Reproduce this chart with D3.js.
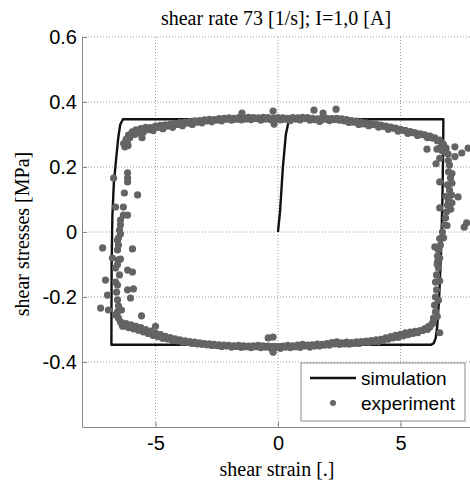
<!DOCTYPE html>
<html>
<head>
<meta charset="utf-8">
<script src="https://cdn.jsdelivr.net/npm/d3@7"></script>
<style>
    body { margin: 0; background: #fff; }
    .tick text { font-family: "Liberation Sans", Arial, sans-serif; font-size: 20px; fill: #000; }
    .serif-label { font-family: "Liberation Serif", "Times New Roman", serif; font-size: 20px; fill: #000; }
    .legend-text { font-family: "Liberation Sans", Arial, sans-serif; font-size: 19px; fill: #000; }
</style>
</head>
<body>
<div id="chart"></div>
<script>
const TITLE = "shear rate 73 [1/s]; I=1,0 [A]";
const X_LABEL = "shear strain [.]";
const Y_LABEL = "shear stresses [MPa]";
const X_TICKS = [-5, 0, 5];
const Y_TICKS = [-0.4, -0.2, 0, 0.2, 0.4, 0.6];
const LEGEND = ["simulation", "experiment"];

// simulated loop (strain, stress)
const simStrain = [0, 0.08, 0.2, 0.32, 0.45, 6.75, 6.74, 6.71, 6.66, 6.58, 6.5, 6.44, 6.36, 6.25,
    -6.8, -6.79, -6.76, -6.7, -6.6, -6.52, -6.44, -6.33, 6.75];
const simStress = [0, 0.06, 0.2, 0.3, 0.347, 0.347, 0.25, 0.1, -0.05, -0.2, -0.29, -0.325, -0.342, -0.347,
    -0.347, -0.1, 0.05, 0.15, 0.23, 0.29, 0.33, 0.347, 0.347];

const expTop = [
    [-6.3,0.272],[-6.2,0.285],[-6.1,0.298],[-5.95,0.308],[-5.8,0.314],[-5.6,0.318],[-5.4,0.322],[-5.2,0.321],
    [-5.0,0.326],[-4.8,0.328],[-4.6,0.33],[-4.4,0.331],[-4.2,0.334],[-4.0,0.337],[-3.8,0.338],[-3.6,0.34],
    [-3.4,0.342],[-3.2,0.343],[-3.0,0.345],[-2.8,0.347],[-2.6,0.346],[-2.4,0.349],[-2.2,0.35],[-2.0,0.351],
    [-1.8,0.35],[-1.6,0.352],[-1.4,0.351],[-1.2,0.353],[-1.0,0.352],[-0.8,0.351],[-0.6,0.353],[-0.4,0.352],
    [-0.2,0.35],[0.0,0.352],[0.2,0.351],[0.4,0.35],[0.6,0.352],[0.8,0.351],[1.0,0.353],[1.2,0.352],
    [1.4,0.35],[1.6,0.348],[1.8,0.351],[2.0,0.35],[2.2,0.349],[2.4,0.35],[2.6,0.348],[2.8,0.346],
    [3.0,0.343],[3.2,0.341],[3.4,0.338],[3.6,0.336],[3.8,0.334],[4.0,0.332],[4.2,0.329],[4.4,0.326],
    [4.6,0.323],[4.8,0.32],[5.0,0.316],[5.2,0.313],[5.4,0.309],[5.6,0.305],[5.8,0.302],[6.0,0.299],
    [6.2,0.295],[6.4,0.29],[6.6,0.283],
    [-6.25,0.262],[-6.05,0.29],[-5.85,0.3],[-5.5,0.307],[-5.1,0.312],[-4.7,0.318],[-4.3,0.322],[-3.9,0.327],
    [-3.5,0.331],[-3.1,0.336],[-2.7,0.339],[-2.3,0.342],[-1.9,0.344],[-1.5,0.345],[-1.1,0.346],[-0.7,0.344],
    [-0.3,0.346],[0.1,0.345],[0.5,0.343],[0.9,0.345],[1.3,0.344],[1.7,0.34],[2.1,0.343],[2.5,0.344],
    [2.9,0.337],[3.3,0.331],[3.7,0.327],[4.1,0.323],[4.5,0.316],[4.9,0.31],[5.3,0.303],[5.7,0.297],
    [6.1,0.29],[6.5,0.281],[6.7,0.272],
    [-6.15,0.275],[-5.7,0.305],[-5.3,0.315],[-4.9,0.322],[-4.5,0.326],[-4.1,0.331],[-3.7,0.335],[-3.3,0.338],
    [-2.9,0.342],[-2.5,0.344],[-2.1,0.347],[-1.7,0.347],[-1.3,0.348],[-0.9,0.349],[-0.5,0.348],[-0.1,0.348],
    [0.3,0.347],[0.7,0.348],[1.1,0.349],[1.5,0.346],[1.9,0.347],[2.3,0.346],[2.7,0.342],[3.1,0.338],
    [3.5,0.333],[3.9,0.33],[4.3,0.325],[4.7,0.319],[5.1,0.313],[5.5,0.306],[5.9,0.299],[6.3,0.289],
    [-5.55,0.29],[-6.12,0.266],[-1.47,0.366],[-0.2,0.372],[-0.16,0.332],[1.47,0.375],[1.84,0.366],[2.37,0.378]
];
const expRight = [
    [6.75,0.27],[6.8,0.26],[6.7,0.25],[6.85,0.245],[6.08,0.255],[6.49,0.255],[6.6,0.258],[6.86,0.258],
    [7.22,0.262],[7.76,0.258],[7.5,0.243],[7.22,0.232],[6.94,0.24],[6.45,0.21],[6.6,0.227],[6.95,0.22],
    [7.0,0.206],[6.96,0.185],[7.04,0.166],[6.92,0.145],[7.0,0.129],[7.08,0.114],[6.96,0.098],[6.92,0.083],
    [6.88,0.062],[6.84,0.043],[6.8,0.022],[6.71,0.0],[6.76,-0.018],[6.63,-0.04],[6.55,-0.055],[6.51,-0.074],
    [6.51,-0.092],[6.55,-0.111],[6.47,-0.132],[6.43,-0.154],[6.47,-0.178],[6.43,-0.2],[6.39,-0.225],[6.43,-0.246],
    [6.35,-0.265],[6.31,-0.28],
    [7.1,0.18],[7.1,0.15],[7.05,0.07],[6.9,0.02],[6.6,-0.02],[6.6,-0.08],[6.6,-0.15],[6.55,-0.21],[6.5,-0.26],
    [6.6,0.154],[7.35,0.108],[6.6,0.074],[7.6,0.015],[7.7,0.028],[6.4,-0.046],[6.5,-0.05],[6.6,-0.31],
    [7.1,0.09],[6.85,0.11],[6.5,-0.1]
];
const expBottom = [
    [6.3,-0.282],[6.15,-0.29],[6.0,-0.297],[5.8,-0.303],[5.6,-0.306],[5.4,-0.308],[5.2,-0.31],[5.0,-0.315],
    [4.8,-0.318],[4.6,-0.322],[4.4,-0.326],[4.2,-0.33],[4.0,-0.332],[3.8,-0.334],[3.6,-0.336],[3.4,-0.337],
    [3.2,-0.338],[3.0,-0.34],[2.8,-0.339],[2.6,-0.341],[2.4,-0.338],[2.2,-0.34],[2.0,-0.343],[1.8,-0.346],
    [1.6,-0.345],[1.4,-0.347],[1.2,-0.348],[1.0,-0.346],[0.8,-0.348],[0.6,-0.35],[0.4,-0.349],[0.2,-0.351],
    [0.0,-0.353],[-0.2,-0.352],[-0.4,-0.351],[-0.6,-0.35],[-0.8,-0.349],[-1.0,-0.35],[-1.2,-0.351],[-1.4,-0.35],
    [-1.6,-0.349],[-1.8,-0.35],[-2.0,-0.349],[-2.2,-0.348],[-2.4,-0.347],[-2.6,-0.346],[-2.8,-0.344],[-3.0,-0.343],
    [-3.2,-0.341],[-3.4,-0.339],[-3.6,-0.337],[-3.8,-0.335],[-4.0,-0.332],[-4.2,-0.329],[-4.4,-0.325],[-4.6,-0.321],
    [-4.8,-0.316],[-5.0,-0.311],[-5.2,-0.305],[-5.4,-0.3],[-5.6,-0.294],[-5.8,-0.29],[-6.0,-0.286],[-6.2,-0.282],
    [-6.4,-0.278],
    [6.1,-0.3],[5.7,-0.31],[5.3,-0.316],[4.9,-0.324],[4.5,-0.33],[4.1,-0.337],[3.7,-0.34],[3.3,-0.343],
    [2.9,-0.345],[2.5,-0.346],[2.1,-0.348],[1.7,-0.351],[1.3,-0.354],[0.9,-0.355],[0.5,-0.356],[0.1,-0.358],
    [-0.3,-0.357],[-0.7,-0.356],[-1.1,-0.356],[-1.5,-0.355],[-1.9,-0.354],[-2.3,-0.352],[-2.7,-0.349],[-3.1,-0.346],
    [-3.5,-0.343],[-3.9,-0.339],[-4.3,-0.334],[-4.7,-0.327],[-5.1,-0.318],[-5.5,-0.307],[-5.9,-0.298],[-6.3,-0.29],
    [6.2,-0.292],[5.9,-0.303],[5.5,-0.312],[5.1,-0.32],[4.7,-0.326],[4.3,-0.333],[3.9,-0.337],[3.5,-0.34],
    [3.1,-0.343],[2.7,-0.344],[2.3,-0.344],[1.9,-0.348],[1.5,-0.351],[1.1,-0.351],[0.7,-0.353],[0.3,-0.354],
    [-0.1,-0.355],[-0.5,-0.354],[-0.9,-0.353],[-1.3,-0.353],[-1.7,-0.352],[-2.1,-0.351],[-2.5,-0.35],[-2.9,-0.347],
    [-3.3,-0.344],[-3.7,-0.34],[-4.1,-0.335],[-4.5,-0.329],[-4.9,-0.322],[-5.3,-0.312],[-5.7,-0.302],[-6.1,-0.294],
    [-0.4,-0.326],[-0.2,-0.323],[-0.2,-0.37],[-5.0,-0.29],[-5.57,-0.258]
];
const expLeft = [
    [-6.71,0.166],[-6.14,0.182],[-6.14,0.166],[-6.14,0.154],[-6.27,0.12],[-5.73,0.114],[-6.63,0.077],[-6.31,0.077],
    [-6.14,0.052],[-6.31,0.052],[-6.43,0.037],[-6.43,0.022],[-6.47,0.006],[-6.43,-0.006],[-6.51,-0.018],[-7.16,-0.049],
    [-6.55,-0.025],[-6.55,-0.055],[-5.94,-0.052],[-6.76,-0.08],[-6.51,-0.086],[-6.43,-0.083],[-6.63,-0.111],[-6.14,-0.117],
    [-5.94,-0.123],[-7.04,-0.148],[-6.63,-0.154],[-6.14,-0.178],[-5.9,-0.175],[-6.96,-0.194],[-6.02,-0.203],[-7.24,-0.234],
    [-6.92,-0.24],[-6.51,-0.04],[-6.55,-0.1],[-6.47,-0.132],
    [-6.55,-0.163],[-6.59,-0.185],[-6.55,-0.209],[-6.51,-0.228],[-6.55,-0.246],[-6.51,-0.265],[-6.43,-0.277],[-6.35,-0.289],
    [-6.63,-0.255],[-6.39,-0.24]
];

class LoopChart {

    constructor(parentElement) {
        this.parentElement = parentElement;
        this.initVis();
    }

    initVis() {
        let vis = this;
        vis.width = 470;
        vis.height = 485;

        vis.svg = d3.select('#' + vis.parentElement).append("svg")
            .attr("width", vis.width)
            .attr("height", vis.height)

        vis.x = d3.scaleLinear().domain([-8, 8]).range([82, 474]);
        vis.y = d3.scaleLinear().domain([-0.6, 0.6]).range([427, 37]);

        // dotted grid
        vis.svg.selectAll(".grid-x")
            .data(X_TICKS)
            .enter().append("line")
            .attr("class", "grid-x")
            .attr("x1", d => vis.x(d)).attr("x2", d => vis.x(d))
            .attr("y1", vis.y(0.6)).attr("y2", vis.y(-0.6))
            .attr("stroke", "#9a9a9a").attr("stroke-dasharray", "1,2")

        vis.svg.selectAll(".grid-y")
            .data(Y_TICKS)
            .enter().append("line")
            .attr("class", "grid-y")
            .attr("x1", vis.x(-8)).attr("x2", vis.x(8))
            .attr("y1", d => vis.y(d)).attr("y2", d => vis.y(d))
            .attr("stroke", "#9a9a9a").attr("stroke-dasharray", "1,2")

        vis.svg.append("g")
            .attr("transform", "translate(0," + vis.y(-0.6) + ")")
            .call(d3.axisBottom(vis.x).tickValues(X_TICKS).tickSizeInner(-5).tickSizeOuter(0)
                .tickPadding(9).tickFormat(d => String(d)))
            .call(g => g.selectAll("path, line").attr("stroke", "#8a8a8a"))

        vis.svg.append("g")
            .attr("transform", "translate(" + vis.x(-8) + ",0)")
            .call(d3.axisLeft(vis.y).tickValues(Y_TICKS).tickSizeInner(-5).tickSizeOuter(0)
                .tickPadding(5).tickFormat(d => String(d)))
            .call(g => g.selectAll("path, line").attr("stroke", "#8a8a8a"))

        vis.svg.append("text")
            .attr("class", "serif-label")
            .attr("x", 276).attr("y", 25)
            .attr("text-anchor", "middle")
            .text(TITLE)

        vis.svg.append("text")
            .attr("class", "serif-label")
            .attr("x", 277).attr("y", 476)
            .attr("text-anchor", "middle")
            .text(X_LABEL)

        vis.svg.append("text")
            .attr("class", "serif-label")
            .attr("transform", "translate(29,234) rotate(-90)")
            .attr("text-anchor", "middle")
            .text(Y_LABEL)

        vis.wrangleData();
    }

    wrangleData() {
        let vis = this;
        vis.simData = simStrain.map((s, i) => ({strain: s, stress: simStress[i]}));
        vis.expData = [].concat(expTop, expRight, expBottom, expLeft)
            .map(d => ({strain: d[0], stress: d[1]}));
        vis.updateVis();
    }

    updateVis() {
        let vis = this;

        let line = d3.line()
            .x(d => vis.x(d.strain))
            .y(d => vis.y(d.stress));

        vis.svg.append("path")
            .datum(vis.simData)
            .attr("d", line)
            .attr("fill", "none")
            .attr("stroke", "#111")
            .attr("stroke-width", 2.4)
            .attr("stroke-linejoin", "round")

        vis.svg.selectAll(".exp-dot")
            .data(vis.expData)
            .enter().append("circle")
            .attr("class", "exp-dot")
            .attr("cx", d => vis.x(d.strain))
            .attr("cy", d => vis.y(d.stress))
            .attr("r", 3.6)
            .attr("fill", "#646464")

        // legend, bottom right
        let legend = vis.svg.append("g").attr("class", "legend")
        legend.append("rect")
            .attr("x", 301).attr("y", 363)
            .attr("width", 164).attr("height", 58)
            .attr("fill", "#fff").attr("stroke", "#8a8a8a")
        legend.append("line")
            .attr("x1", 310).attr("x2", 356)
            .attr("y1", 378).attr("y2", 378)
            .attr("stroke", "#111").attr("stroke-width", 2.4)
        legend.append("circle")
            .attr("cx", 333).attr("cy", 403).attr("r", 3)
            .attr("fill", "#646464")
        legend.selectAll(".legend-text")
            .data(LEGEND)
            .enter().append("text")
            .attr("class", "legend-text")
            .attr("x", 361)
            .attr("y", (d, i) => 385 + i * 25)
            .text(d => d)
    }
}

new LoopChart("chart");
</script>
</body>
</html>
